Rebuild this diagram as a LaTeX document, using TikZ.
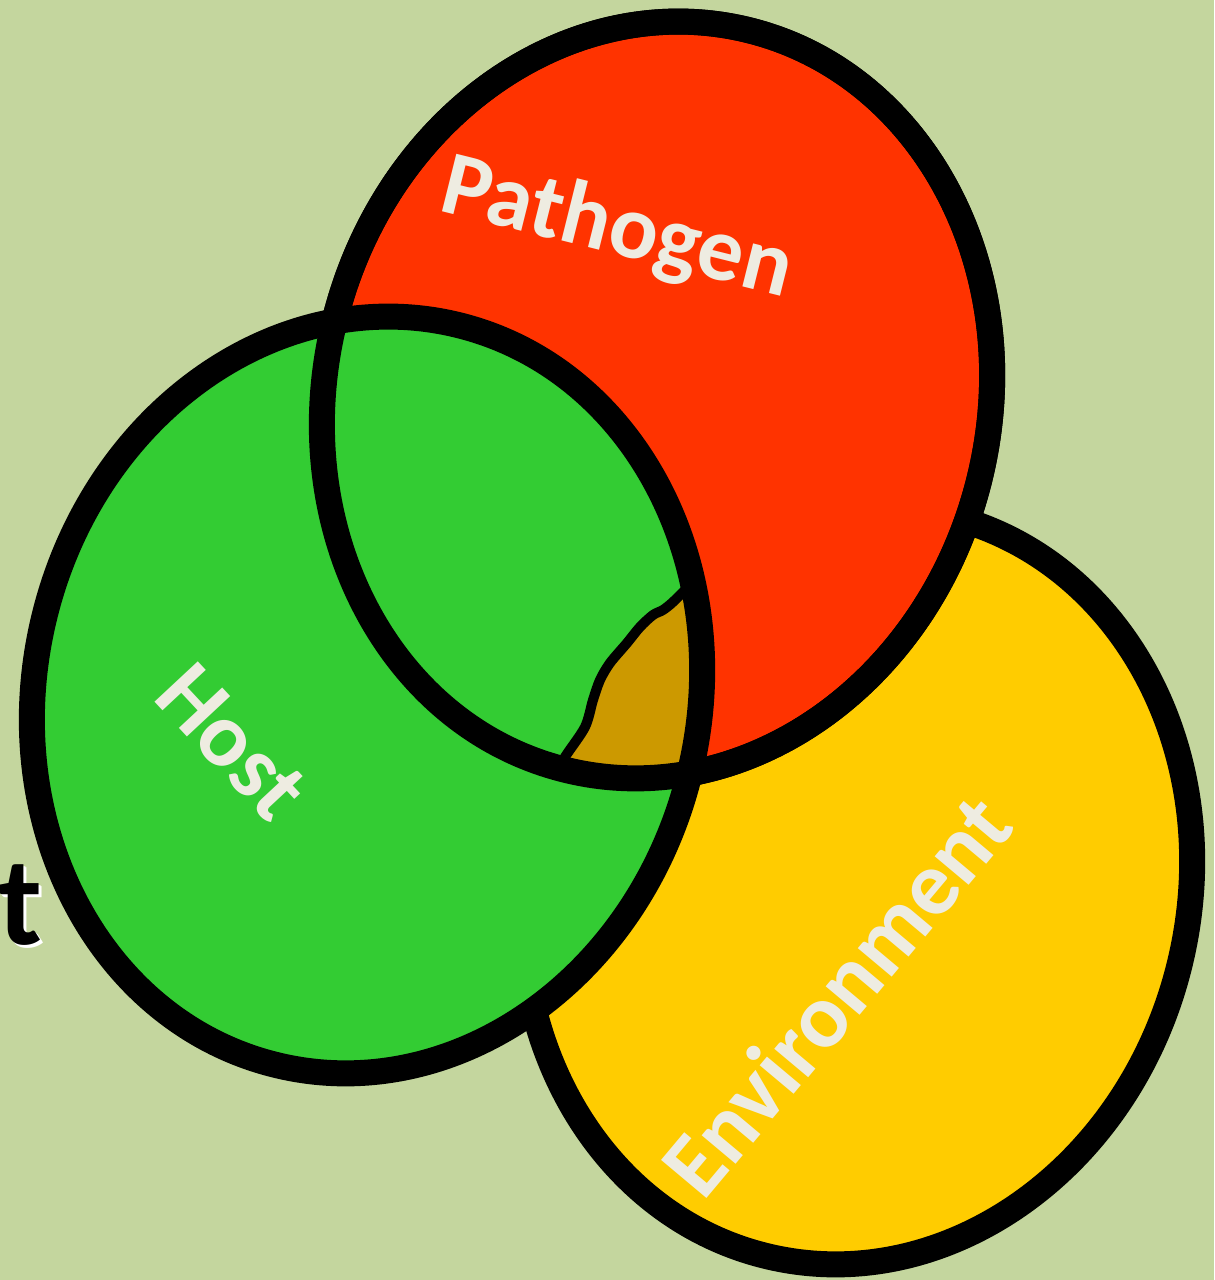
\documentclass[tikz,border=0pt]{standalone}
\usepackage{fontspec}
\setmainfont{Carlito}
\definecolor{bgolive}{HTML}{C4D69E}
\definecolor{pathred}{HTML}{FF3300}
\definecolor{hostgreen}{HTML}{33CC33}
\definecolor{envyellow}{HTML}{FFCC00}
\definecolor{coreochre}{HTML}{CC9900}
\definecolor{labelwhite}{HTML}{EEECE1}
\begin{document}
\begin{tikzpicture}[x=.02cm, y=.02cm, line join=round, line cap=round,
		rim/.style={line width=.52cm},
		label text/.style={text=labelwhite, inner sep=0pt, font=\bfseries\fontsize{52}{56}\selectfont}]
	\def \a{332} % half width of each ellipse
	\def \b{381} % half height
	\def \tilt{-14}
	\fill[bgolive] (0,0) rectangle (1214,1280);
	\clip (0,0) rectangle (1214,1280);
	\coordinate (P) at (657,880);
	\coordinate (H) at (367,585);
	\coordinate (E) at (857,394);
	% back to front: environment, pathogen, host
	\filldraw[fill=envyellow, rim, rotate around={\tilt:(E)}] (E) ellipse [x radius=\a, y radius=\b];
	\filldraw[fill=pathred, rim, rotate around={\tilt:(P)}] (P) ellipse [x radius=\a, y radius=\b];
	\fill[hostgreen, rotate around={\tilt:(H)}] (H) ellipse [x radius=\a, y radius=\b];
	% the part shared by all three
	\begin{scope}
		\clip[rotate around={\tilt:(P)}] (P) ellipse [x radius=\a, y radius=\b];
		\clip[rotate around={\tilt:(H)}] (H) ellipse [x radius=\a, y radius=\b];
		\fill[coreochre] plot[smooth, tension=.5] coordinates {(556,505) (565,523) (585,553) (593,580) (600,600) (610,617) (627,637) (640,653) (653,665) (663,670) (673,678) (690,695)}
			-- (800,700) -- (800,450) -- (556,450) -- cycle;
		\draw[line width=.2cm] plot[smooth, tension=.5] coordinates {(556,505) (565,523) (585,553) (593,580) (600,600) (610,617) (627,637) (640,653) (653,665) (663,670) (673,678) (690,695)};
	\end{scope}
	\draw[rim, rotate around={\tilt:(P)}] (P) ellipse [x radius=\a, y radius=\b];
	\draw[rim, rotate around={\tilt:(H)}] (H) ellipse [x radius=\a, y radius=\b];
	\node[label text, rotate=-14] (pathogen) at (617,1050) {Pathogen};
	\node[label text, rotate=-47] (host) at (232,538) {Host};
	\node[label text, rotate=50] (environment) at (836,285) {Environment};
	% cut-off letter at the left edge, with a light glow
	\foreach \dx/\dy in {2/-2, 3/-3}
		\node[anchor=base east, inner sep=0pt, text=white, font=\bfseries\fontsize{72}{76}\selectfont] at (43+\dx,335+\dy) {t};
	\node[anchor=base east, inner sep=0pt, font=\bfseries\fontsize{72}{76}\selectfont] (tail) at (43,335) {t};
\end{tikzpicture}
\end{document}
